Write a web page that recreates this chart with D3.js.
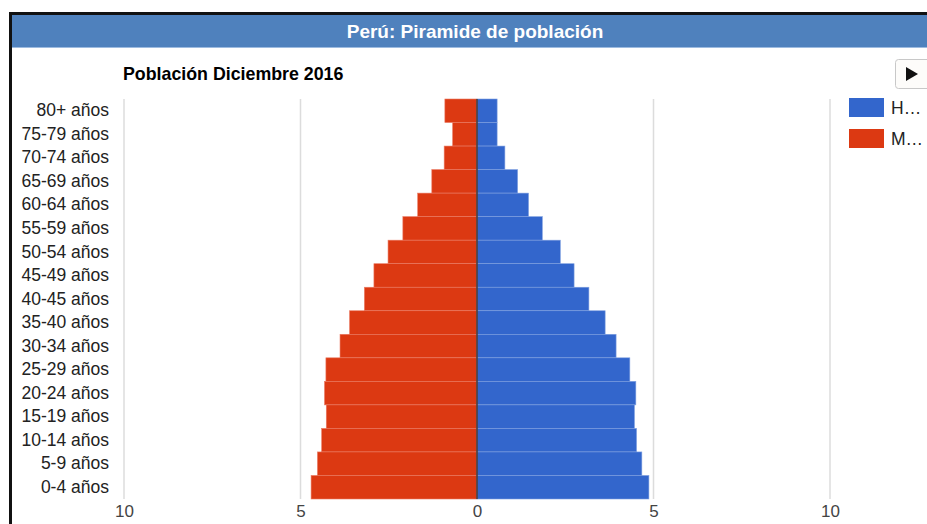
<!DOCTYPE html>
<html><head><meta charset="utf-8">
<script src="https://cdn.jsdelivr.net/npm/d3@7"></script>
<style>
html,body{margin:0;padding:0;background:#fff;overflow:hidden;}
svg{display:block;font-family:"Liberation Sans",Arial,sans-serif;}
</style></head>
<body>
<svg id="chart" width="927" height="524"></svg>
<script>
const categories = ["80+ años","75-79 años","70-74 años","65-69 años","60-64 años","55-59 años","50-54 años","45-49 años","40-45 años","35-40 años","30-34 años","25-29 años","20-24 años","15-19 años","10-14 años","5-9 años","0-4 años"];
const hombres = [0.57,0.57,0.79,1.15,1.46,1.85,2.36,2.75,3.17,3.63,3.94,4.33,4.50,4.46,4.52,4.67,4.87];
const mujeres = [0.91,0.69,0.93,1.28,1.68,2.10,2.52,2.92,3.19,3.61,3.88,4.28,4.32,4.27,4.40,4.52,4.70];
const tickValues = [-10,-5,0,5,10];
const seriesNames = ["Hombres","Mujeres"];
const legendLabels = ["H…","M…"];
const colors = ["#3366cc","#dc3912"];

const svg = d3.select("#chart");

// frame
svg.append("rect").attr("x",10.5).attr("y",13.5).attr("width",1000).attr("height",600)
  .attr("fill","#fff").attr("stroke","#111").attr("stroke-width",3);
svg.append("rect").attr("x",12).attr("y",15).attr("width",1000).attr("height",32).attr("fill","#4f81bd");
svg.append("line").attr("x1",12).attr("x2",1000).attr("y1",47.5).attr("y2",47.5).attr("stroke","#9dbbe0");
svg.append("text").attr("x",475).attr("y",38).attr("text-anchor","middle")
  .attr("fill","#fff").attr("font-weight","bold").attr("font-size",19).text("Perú: Piramide de población");

svg.append("text").attr("x",123).attr("y",80).attr("fill","#000").attr("font-weight","bold")
  .attr("font-size",17.8).text("Población Diciembre 2016");

// play button
svg.append("rect").attr("x",895.5).attr("y",59.5).attr("width",40).attr("height",29).attr("rx",3)
  .attr("fill","#fdfcfa").attr("stroke","#c8c8c8");
svg.append("path").attr("d","M906,67 L918,74 L906,81 Z").attr("fill","#111");

const x = d3.scaleLinear().domain([-10,10]).range([124,830]);
const y = d3.scaleBand().domain(categories).range([99,499]).paddingInner(0.0);

const g = svg.append("g");
// gridlines
g.selectAll("line.grid").data(tickValues.filter(v=>v!==0)).join("line")
  .attr("x1",d=>x(d)).attr("x2",d=>x(d)).attr("y1",99).attr("y2",499)
  .attr("stroke","#dcdcdc").attr("stroke-width",1.5);

// bars
g.selectAll("rect.m").data(categories).join("rect")
  .attr("x",(d,i)=>x(-mujeres[i])).attr("y",d=>y(d))
  .attr("width",(d,i)=>x(0)-x(-mujeres[i])).attr("height",y.bandwidth())
  .attr("fill",colors[1]).attr("stroke","#ea7a63").attr("stroke-width",0.6);
g.selectAll("rect.h").data(categories).join("rect")
  .attr("x",x(0)).attr("y",d=>y(d))
  .attr("width",(d,i)=>x(hombres[i])-x(0)).attr("height",y.bandwidth())
  .attr("fill",colors[0]).attr("stroke","#7e9fe0").attr("stroke-width",0.6);

// zero line
g.append("line").attr("x1",x(0)).attr("x2",x(0)).attr("y1",99).attr("y2",499)
  .attr("stroke","#4a3a30").attr("stroke-width",1.5);

// y labels
const yAxis = d3.axisLeft(y).tickSize(0).tickPadding(0);
const ya = svg.append("g").attr("transform","translate(109,0)").call(yAxis);
ya.select(".domain").remove();
ya.selectAll("text").attr("font-size",17.5).attr("fill","#222").attr("font-family","'Liberation Sans',Arial,sans-serif");

// x labels
const xAxis = d3.axisBottom(x).tickValues(tickValues).tickSize(0).tickPadding(0).tickFormat(d=>Math.abs(d));
const xa = svg.append("g").attr("transform","translate(0,505)").call(xAxis);
xa.select(".domain").remove();
xa.selectAll("text").attr("font-size",17).attr("fill","#444").attr("font-family","'Liberation Sans',Arial,sans-serif");

// legend
const lg = svg.append("g");
lg.selectAll("rect").data(seriesNames).join("rect")
  .attr("x",849).attr("y",(d,i)=>98+i*31).attr("width",35).attr("height",19)
  .attr("fill",(d,i)=>colors[i]);
lg.selectAll("text").data(legendLabels).join("text")
  .attr("x",891).attr("y",(d,i)=>114+i*31).attr("font-size",17.5).attr("fill","#222").text(d=>d);
</script>
</body></html>
